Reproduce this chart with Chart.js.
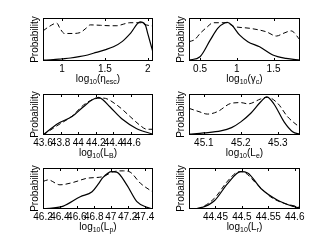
<!DOCTYPE html>
<html>
<head>
<meta charset="utf-8">
<script src="https://cdn.jsdelivr.net/npm/chart.js@4.4.0/dist/chart.umd.min.js"></script>
<style>
  body { margin: 0; background: #fff; }
  #wrap { position: relative; width: 332px; height: 250px; overflow: hidden; background: #fff; }
  #wrap canvas { position: absolute; left: 0; top: 0; }
  .xlabel { position: absolute; text-align: center; font: 10px 'Liberation Sans', Arial, sans-serif; color: #000; line-height: 12px; white-space: nowrap; }
  .xlabel sub { font-size: 7px; vertical-align: -2px; line-height: 0; }
</style>
</head>
<body>
<div id="wrap"></div>
<script>
// eta_esc
const etaTicks = [1, 1.5, 2];
const etaTickLabels = ['1', '1.5', '2'];
const etaSolidX = [0.78, 0.9, 1.0, 1.1, 1.2, 1.3, 1.4, 1.5, 1.6, 1.7, 1.8, 1.91, 1.97, 2.0, 2.06];
const etaSolid = [0.02, 0.03, 0.05, 0.07, 0.1, 0.14, 0.2, 0.26, 0.33, 0.45, 0.65, 0.91, 0.84, 0.63, 0.2];
const etaDashedX = [0.78, 0.85, 0.94, 0.98, 1.03, 1.12, 1.21, 1.28, 1.33, 1.45, 1.56, 1.64, 1.72, 1.79, 1.91, 1.98, 2.06];
const etaDashed = [0.70, 0.80, 0.88, 0.75, 0.64, 0.64, 0.66, 0.76, 0.84, 0.83, 0.82, 0.82, 0.86, 0.89, 0.89, 0.84, 0.81];

// gamma_c
const gamTicks = [0.5, 1, 1.5];
const gamTickLabels = ['0.5', '1', '1.5'];
const gamSolidX = [0.35, 0.5, 0.64, 0.74, 0.84, 0.87, 0.93, 1.04, 1.15, 1.31, 1.49, 1.67, 1.86];
const gamSolid = [0.02, 0.10, 0.49, 0.76, 0.89, 0.90, 0.84, 0.60, 0.45, 0.33, 0.14, 0.06, 0.02];
const gamDashedX = [0.35, 0.43, 0.5, 0.59, 0.68, 0.86, 0.95, 1.18, 1.40, 1.54, 1.63, 1.74, 1.86];
const gamDashed = [0.45, 0.50, 0.64, 0.78, 0.89, 0.89, 0.81, 0.76, 0.68, 0.58, 0.64, 0.70, 0.49];

// L_B
const lbTicks = [43.6, 43.8, 44, 44.2, 44.4, 44.6];
const lbTickLabels = ['43.6', '43.8', '44', '44.2', '44.4', '44.6'];
const lbSolidX = [43.6, 43.77, 43.93, 44.06, 44.16, 44.23, 44.28, 44.36, 44.51, 44.66, 44.85];
const lbSolid = [0, 0.28, 0.45, 0.69, 0.86, 0.92, 0.86, 0.69, 0.37, 0.16, 0.02];
const lbDashedX = [43.6, 43.77, 43.93, 44.06, 44.17, 44.285, 44.44, 44.59, 44.70, 44.78, 44.85];
const lbDashed = [0, 0.24, 0.46, 0.73, 0.87, 0.90, 0.73, 0.45, 0.24, 0.14, 0.14];

// L_e
const leTicks = [45.1, 45.2, 45.3];
const leTickLabels = ['45.1', '45.2', '45.3'];
const leSolidX = [45.06, 45.10, 45.146, 45.175, 45.2, 45.227, 45.254, 45.27, 45.29, 45.317, 45.34, 45.36];
const leSolid = [0.02, 0.05, 0.10, 0.18, 0.32, 0.53, 0.81, 0.93, 0.75, 0.32, 0.08, 0.02];
const leDashedX = [45.06, 45.087, 45.11, 45.137, 45.173, 45.2, 45.22, 45.254, 45.272, 45.30, 45.326, 45.36];
const leDashed = [0.65, 0.57, 0.51, 0.57, 0.77, 0.79, 0.76, 0.88, 0.92, 0.77, 0.45, 0.18];

// L_p
const lpTicks = [46.2, 46.4, 46.6, 46.8, 47, 47.2, 47.4];
const lpTickLabels = ['46.2', '46.4', '46.6', '46.8', '47', '47.2', '47.4'];
const lpSolidX = [46.2, 46.44, 46.64, 46.78, 46.85, 46.91, 47.01, 47.07, 47.19, 47.31, 47.43, 47.5];
const lpSolid = [0, 0.07, 0.30, 0.42, 0.6, 0.77, 0.91, 0.90, 0.59, 0.18, 0.04, 0];
const lpDashedX = [46.2, 46.26, 46.40, 46.56, 46.72, 46.91, 47.03, 47.15, 47.23, 47.35, 47.5];
const lpDashed = [0.67, 0.71, 0.59, 0.65, 0.75, 0.79, 0.91, 0.93, 0.90, 0.63, 0.41];

// L_r
const lrTicks = [44.45, 44.5, 44.55, 44.6];
const lrTickLabels = ['44.45', '44.5', '44.55', '44.6'];
const lrSolidX = [44.40, 44.423, 44.448, 44.473, 44.498, 44.511, 44.536, 44.567, 44.598, 44.61];
const lrSolid = [0, 0.03, 0.2, 0.62, 0.91, 0.88, 0.5, 0.22, 0.06, 0.02];
const lrDashedX = [44.40, 44.423, 44.448, 44.473, 44.492, 44.50, 44.529, 44.554, 44.579, 44.604, 44.61];
const lrDashed = [0, 0.04, 0.26, 0.68, 0.9, 0.91, 0.6, 0.3, 0.14, 0.06, 0.03];

// layout of the 3x2 grid (chart area edges in px)
const colLeft = [43, 189];
const colRight = [153, 300];
const rowTop = [18, 94, 168];
const rowBottom = [61, 135, 209];
const W = 332, H = 250;
const Y_AXIS_W = 18, X_AXIS_H = 14;

const panels = [
    { label: 'log<sub>10</sub>(η<sub>esc</sub>)', min: 0.78, max: 2.06, ticks: etaTicks, tickLabels: etaTickLabels,
      solidX: etaSolidX, solid: etaSolid, dashedX: etaDashedX, dashed: etaDashed, col: 0, row: 0 },
    { label: 'log<sub>10</sub>(γ<sub>c</sub>)', min: 0.35, max: 1.86, ticks: gamTicks, tickLabels: gamTickLabels,
      solidX: gamSolidX, solid: gamSolid, dashedX: gamDashedX, dashed: gamDashed, col: 1, row: 0 },
    { label: 'log<sub>10</sub>(L<sub>B</sub>)', min: 43.6, max: 44.85, ticks: lbTicks, tickLabels: lbTickLabels,
      solidX: lbSolidX, solid: lbSolid, dashedX: lbDashedX, dashed: lbDashed, col: 0, row: 1 },
    { label: 'log<sub>10</sub>(L<sub>e</sub>)', min: 45.06, max: 45.36, ticks: leTicks, tickLabels: leTickLabels,
      solidX: leSolidX, solid: leSolid, dashedX: leDashedX, dashed: leDashed, col: 1, row: 1 },
    { label: 'log<sub>10</sub>(L<sub>p</sub>)', min: 46.2, max: 47.5, ticks: lpTicks, tickLabels: lpTickLabels,
      solidX: lpSolidX, solid: lpSolid, dashedX: lpDashedX, dashed: lpDashed, col: 0, row: 2 },
    { label: 'log<sub>10</sub>(L<sub>r</sub>)', min: 44.40, max: 44.61, ticks: lrTicks, tickLabels: lrTickLabels,
      solidX: lrSolidX, solid: lrSolid, dashedX: lrDashedX, dashed: lrDashed, col: 1, row: 2 }
];

Chart.defaults.font.family = "'Liberation Sans', Arial, sans-serif";
Chart.defaults.font.size = 10;
Chart.defaults.color = '#000';

// box around the axes plus small inward tick marks, matlab style
const boxPlugin = {
    id: 'box',
    afterDraw(chart) {
        const { ctx, chartArea: a } = chart;
        const xs = chart.scales.x;
        ctx.save();
        ctx.strokeStyle = '#000';
        ctx.lineWidth = 1;
        ctx.strokeRect(a.left + 0.5, a.top + 0.5, a.right - a.left - 1, a.bottom - a.top - 1);
        ctx.beginPath();
        xs.ticks.forEach(t => {
            const px = Math.round(xs.getPixelForValue(t.value)) + 0.5;
            ctx.moveTo(px, a.bottom);
            ctx.lineTo(px, a.bottom - 3);
            ctx.moveTo(px, a.top);
            ctx.lineTo(px, a.top + 3);
        });
        ctx.stroke();
        ctx.restore();
    }
};

const wrap = document.getElementById('wrap');

panels.forEach(p => {
    const left = colLeft[p.col], right = colRight[p.col];
    const top = rowTop[p.row], bottom = rowBottom[p.row];

    const canvas = document.createElement('canvas');
    canvas.width = W;
    canvas.height = H;
    wrap.appendChild(canvas);

    new Chart(canvas.getContext('2d'), {
        type: 'line',
        data: {
            datasets: [
                {
                    data: p.solidX.map((x, i) => ({ x: x, y: p.solid[i] })),
                    borderColor: '#000',
                    borderWidth: 1.2,
                    pointRadius: 0,
                    cubicInterpolationMode: 'monotone',
                    fill: false
                },
                {
                    data: p.dashedX.map((x, i) => ({ x: x, y: p.dashed[i] })),
                    borderColor: '#000',
                    borderWidth: 1,
                    borderDash: [5, 3],
                    pointRadius: 0,
                    cubicInterpolationMode: 'monotone',
                    fill: false
                }
            ]
        },
        options: {
            responsive: false,
            animation: false,
            events: [],
            layout: {
                padding: {
                    left: left - Y_AXIS_W,
                    right: W - right,
                    top: top,
                    bottom: H - bottom - X_AXIS_H
                }
            },
            plugins: { legend: { display: false }, tooltip: { enabled: false } },
            scales: {
                x: {
                    type: 'linear',
                    min: p.min,
                    max: p.max,
                    afterFit: s => { s.height = X_AXIS_H; },
                    afterBuildTicks: s => { s.ticks = p.ticks.map(v => ({ value: v })); },
                    grid: { display: false, drawTicks: false },
                    border: { display: false },
                    ticks: {
                        autoSkip: false,
                        maxRotation: 0,
                        padding: 2,
                        callback: v => {
                            const i = p.ticks.indexOf(v);
                            return i >= 0 ? p.tickLabels[i] : '';
                        }
                    }
                },
                y: {
                    min: 0,
                    max: 1,
                    afterFit: s => { s.width = Y_AXIS_W; },
                    grid: { display: false },
                    border: { display: false },
                    ticks: { display: false },
                    title: { display: true, text: 'Probability', font: { size: 10 } }
                }
            }
        },
        plugins: [boxPlugin]
    });

    const lab = document.createElement('div');
    lab.className = 'xlabel';
    lab.style.left = left + 'px';
    lab.style.width = (right - left) + 'px';
    lab.style.top = (bottom + 12) + 'px';
    lab.innerHTML = p.label;
    wrap.appendChild(lab);
});
</script>
</body>
</html>
